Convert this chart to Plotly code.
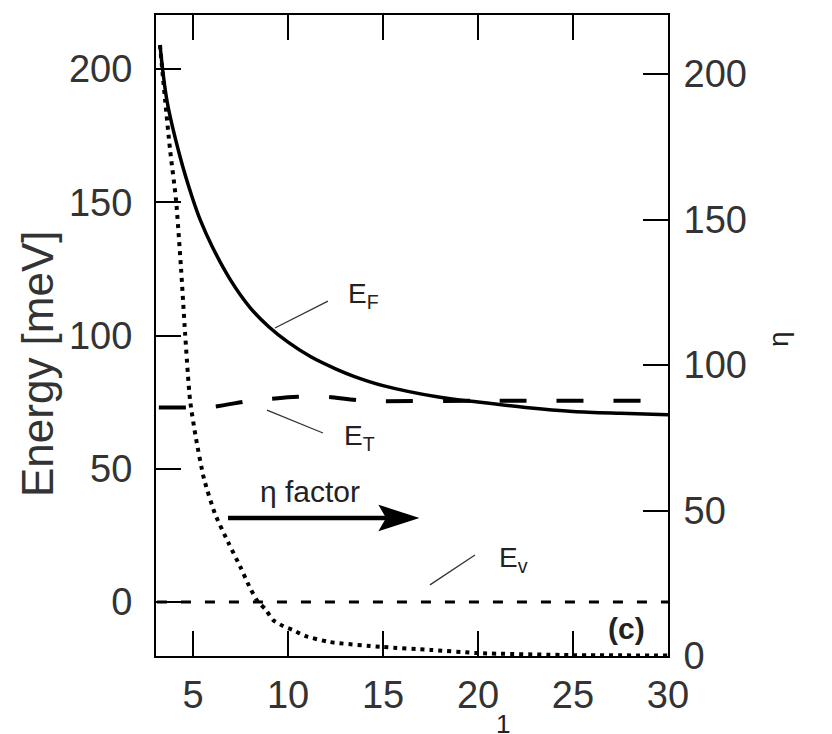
import plotly.graph_objects as go

# ---- data ----
ef_x = [3.26, 3.63, 4.32, 4.95, 5.4, 6.0, 7.0, 8.0, 9.0, 10.0, 11.2, 12.5, 13.5, 15.0, 18.0, 20.0, 22.5, 25.0, 27.5, 30.0]
ef_y = [209, 188, 167, 152, 143, 133.5, 120.5, 110.5, 103.2, 97.5, 92, 87.5, 84.6, 81.2, 76.8, 75, 73, 71.5, 70.8, 70.3]

et_x = [3.2, 6.0, 8.0, 10.5, 12.0, 14.0, 20.0, 30.0]
et_y = [73, 73.2, 75.5, 77, 77, 75.5, 75.5, 75.5]

ev_x = [3.1, 30.0]
ev_y = [0, 0]

eta_x = [3.26, 3.53, 3.79, 4.1, 4.37, 4.58, 4.84, 5.16, 5.58, 6.16, 6.84, 7.47, 8.0, 8.42, 8.79, 9.21, 9.74, 10.26, 10.9, 12.2, 15.0, 17.5, 20.0, 25.0, 30.0]
eta_y = [210, 191, 174, 157, 133, 111, 88, 74.6, 60.8, 48.8, 39.2, 30.9, 23.4, 18.6, 16.2, 12.4, 10.3, 8.9, 6.9, 4.8, 3.1, 2.1, 1.0, 0.3, 0.2]

x_ticks = [5, 10, 15, 20, 25, 30]
y_ticks = [0, 50, 100, 150, 200]
y2_ticks = [0, 50, 100, 150, 200]

FONT = "Liberation Sans, Arial, sans-serif"
INK = "#222222"
TICK_INK = "#333333"

fig = go.Figure()
fig.add_trace(go.Scatter(x=ef_x, y=ef_y, mode="lines", line=dict(color="black", width=3.5, shape="spline", smoothing=0.9), showlegend=False))
fig.add_trace(go.Scatter(x=et_x, y=et_y, mode="lines", line=dict(color="black", width=4, dash="27px,30px", shape="spline", smoothing=0.6), showlegend=False))
fig.add_trace(go.Scatter(x=ev_x, y=ev_y, mode="lines", line=dict(color="black", width=3, dash="10px,14px"), showlegend=False))
fig.add_trace(go.Scatter(x=eta_x, y=eta_y, mode="lines", yaxis="y2", line=dict(color="black", width=4, dash="4px,5px", shape="spline", smoothing=0.6), showlegend=False))

# leader lines
leaders = [((9.31, 102.8), (12.1, 112.9)),
           ((8.89, 72.0), (11.84, 63.4)),
           ((17.47, 6.4), (19.84, 17.6))]
for (x0, y0), (x1, y1) in leaders:
    fig.add_shape(type="line", xref="x", yref="y", x0=x0, y0=y0, x1=x1, y1=y1,
                  line=dict(color="#333", width=1.3))

# eta factor arrow
fig.add_shape(type="line", xref="x", yref="y", x0=6.84, y0=31.5, x1=15.2, y1=31.5,
              line=dict(color="black", width=4.5))
fig.add_shape(type="path", xref="x", yref="y",
              path="M 14.84 36.0 L 16.79 31.5 L 14.84 27.0 L 15.2 31.5 Z",
              fillcolor="black", line=dict(color="black", width=1.5))

ann = [
    dict(x=13.05, y=115.2, text="E<sub>F</sub>", xanchor="left", yanchor="middle", font=dict(size=28)),
    dict(x=12.84, y=61.9, text="E<sub>T</sub>", xanchor="left", yanchor="middle", font=dict(size=28)),
    dict(x=21.0, y=15.8, text="E<sub>v</sub>", xanchor="left", yanchor="middle", font=dict(size=28)),
    dict(x=11.16, y=41.5, text="η factor", xanchor="center", yanchor="middle", font=dict(size=30)),
    dict(x=27.84, y=-10.1, text="<b>(c)</b>", xanchor="center", yanchor="middle", font=dict(size=30)),
]
for a in ann:
    a.update(xref="x", yref="y", showarrow=False)
    a["font"].update(family=FONT, color=INK)
    fig.add_annotation(**a)

fig.add_annotation(xref="paper", yref="paper", x=-0.2324, y=0.4555, text="Energy [meV]",
                   textangle=-90, showarrow=False, xanchor="center", yanchor="middle",
                   font=dict(family=FONT, size=44, color=TICK_INK))
fig.add_annotation(xref="paper", yref="paper", x=1.215, y=0.4945, text="η",
                   textangle=-90, showarrow=False, xanchor="center", yanchor="middle",
                   font=dict(family=FONT, size=28, color=INK))
fig.add_annotation(xref="paper", yref="paper", x=0.678, y=-0.08, text="1",
                   showarrow=False, xanchor="center", yanchor="top",
                   font=dict(family=FONT, size=26, color=INK))

axis_common = dict(showline=True, linecolor="black", linewidth=2, ticks="inside", ticklen=25,
                   tickwidth=2, tickcolor="black", showgrid=False, zeroline=False,
                   tickfont=dict(family=FONT, size=38, color=TICK_INK))

fig.update_layout(
    width=832, height=734,
    margin=dict(l=156, r=164, t=15, b=78),
    paper_bgcolor="white", plot_bgcolor="white",
    xaxis=dict(range=[3.05, 30], tickvals=x_ticks, mirror="ticks", ticklabelstandoff=4, **axis_common),
    yaxis=dict(range=[-20.3, 220.3], tickvals=y_ticks, mirror=False, ticklabelstandoff=14, **axis_common),
    yaxis2=dict(range=[0, 220.3], tickvals=y2_ticks, overlaying="y", side="right", ticklabelstandoff=6, **axis_common),
)

fig.write_html("out.html")
